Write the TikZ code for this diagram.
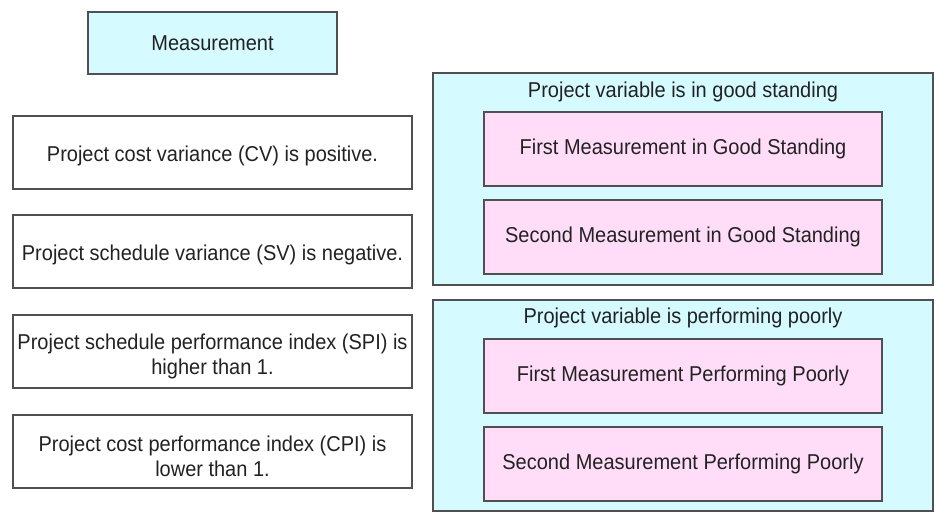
\documentclass[tikz,border=0pt]{standalone}
\usepackage{fontspec}
\setmainfont{Liberation Sans}[FakeStretch=0.93]
\definecolor{cyanbg}{HTML}{D5FAFF}
\definecolor{pinkbg}{HTML}{FFDDF8}
\definecolor{edgec}{HTML}{505050}
\definecolor{txtc}{HTML}{222222}
\begin{document}
\begin{tikzpicture}[x=1pt,y=-1pt,
  box/.style={draw=edgec,line width=1.3pt,fill=white,inner sep=0pt,text=txtc,align=center,font=\fontsize{21.5}{25}\selectfont},
  cbox/.style={box,fill=cyanbg},
  pbox/.style={box,fill=pinkbg},
  txt/.style={text=txtc,align=center,inner sep=0pt,font=\fontsize{21.5}{25}\selectfont},
  title/.style={txt}]
\useasboundingbox (0,0) rectangle (945,525);
\fill[white] (0,0) rectangle (945,525);
% left column
\node[cbox,minimum width=249pt,minimum height=62pt] (meas) at (212.5,43) {Measurement};
\node[box,minimum width=399pt,minimum height=73pt,label={[txt,yshift=-3.5pt]center:Project cost variance (CV) is positive.}] (cv) at (212.5,152.5) {};
\node[box,minimum width=399pt,minimum height=73pt,label={[txt,yshift=-3.5pt]center:Project schedule variance (SV) is negative.}] (sv) at (212.5,251.5) {};
\node[box,minimum width=399pt,minimum height=73pt,label={[txt,yshift=-4.5pt]center:{Project schedule performance index (SPI) is\\higher than 1.}}] (spi) at (212.5,351.5) {};
\node[box,minimum width=399pt,minimum height=73pt,label={[txt,yshift=-4.5pt]center:{Project cost performance index (CPI) is\\lower than 1.}}] (cpi) at (212.5,451.5) {};
% right containers
\node[cbox,minimum width=500pt,minimum height=212pt] (good) at (683,179) {};
\node[title] (goodt) at (683,91.5) {Project variable is in good standing};
\node[pbox,minimum width=398pt,minimum height=74pt] (g1) at (683,149) {First Measurement in Good Standing};
\node[pbox,minimum width=398pt,minimum height=74pt] (g2) at (683,237) {Second Measurement in Good Standing};
\node[cbox,minimum width=500pt,minimum height=211pt] (poor) at (683,405.5) {};
\node[title] (poort) at (683,317.5) {Project variable is performing poorly};
\node[pbox,minimum width=398pt,minimum height=74pt] (p1) at (683,376) {First Measurement Performing Poorly};
\node[pbox,minimum width=398pt,minimum height=74pt] (p2) at (683,464) {Second Measurement Performing Poorly};
\end{tikzpicture}
\end{document}
